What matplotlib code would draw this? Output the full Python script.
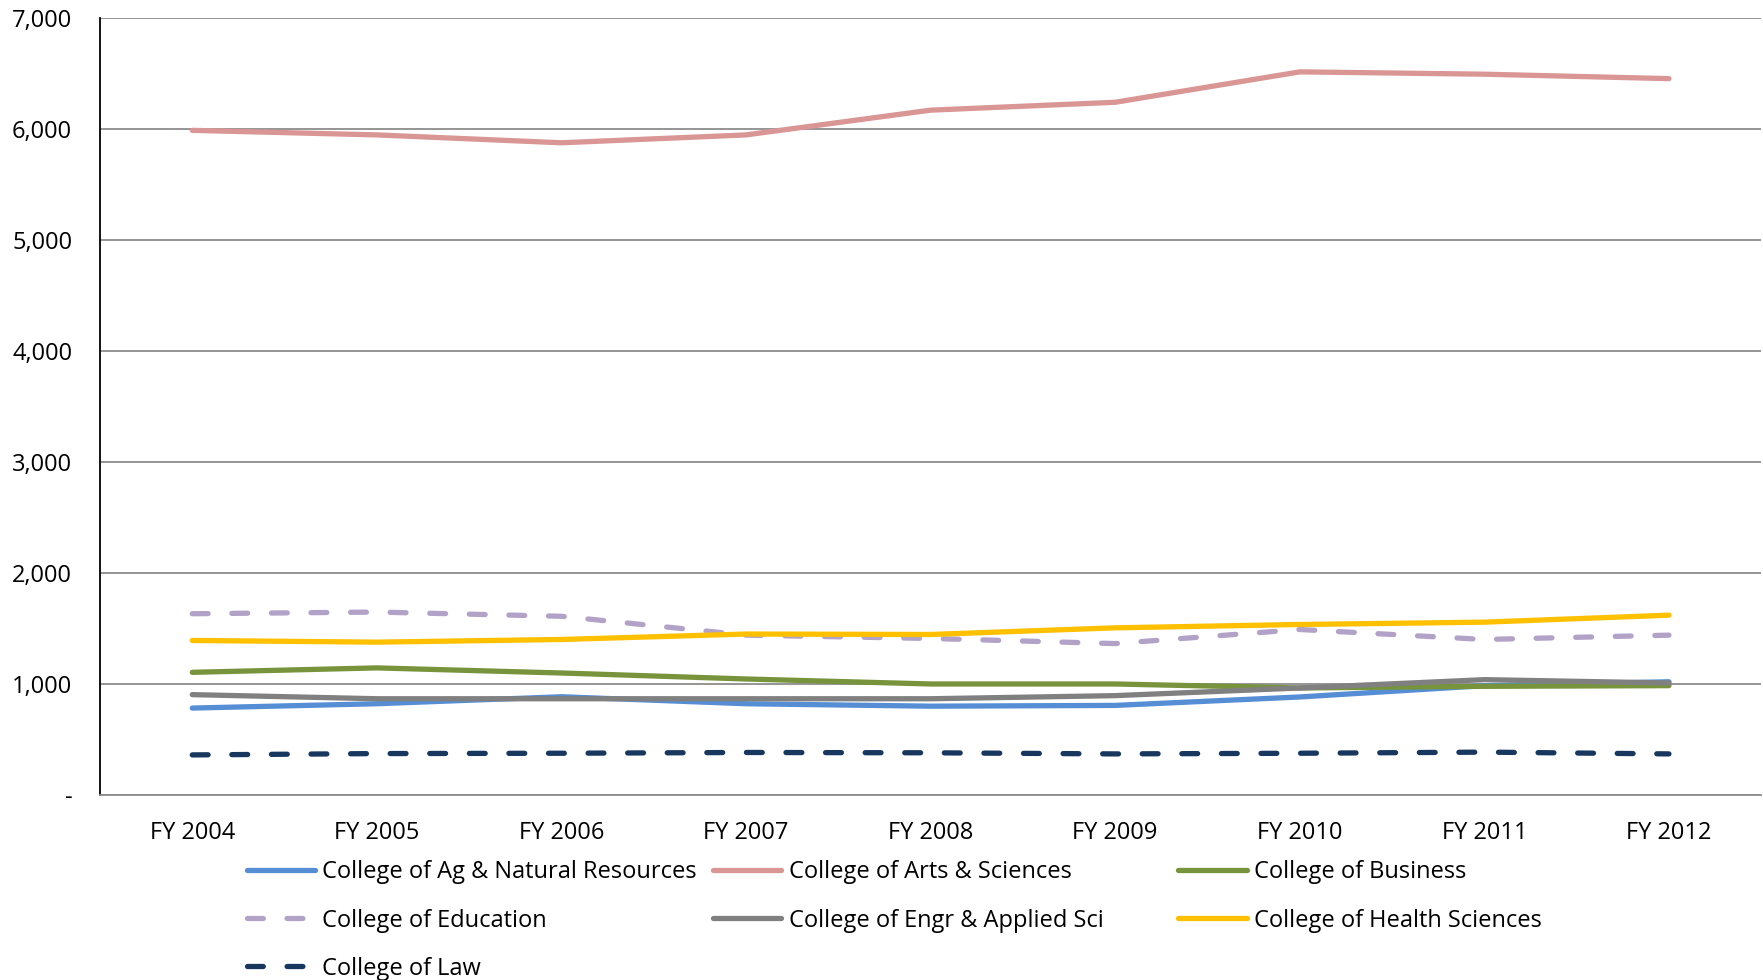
import matplotlib
matplotlib.use('Agg')
import matplotlib.pyplot as plt
from matplotlib.ticker import FuncFormatter

plt.rcParams['font.family'] = ['Open Sans', 'DejaVu Sans']

years = ['FY 2004', 'FY 2005', 'FY 2006', 'FY 2007', 'FY 2008',
         'FY 2009', 'FY 2010', 'FY 2011', 'FY 2012']

ag = [783, 822, 885, 822, 800, 807, 883, 985, 1020]
arts = [5988, 5947, 5876, 5947, 6170, 6241, 6515, 6494, 6454]
business = [1105, 1145, 1099, 1045, 1000, 1000, 964, 979, 985]
education = [1633, 1648, 1610, 1440, 1410, 1364, 1491, 1401, 1440]
engr = [904, 867, 867, 867, 867, 895, 964, 1039, 1009]
health = [1392, 1377, 1401, 1450, 1446, 1506, 1536, 1557, 1620]
law = [361, 373, 376, 383, 380, 370, 376, 386, 370]

series = [
    ('College of Ag & Natural Resources', ag, '#558ED5', False),
    ('College of Arts & Sciences', arts, '#D99694', False),
    ('College of Business', business, '#77933C', False),
    ('College of Education', education, '#B3A2C7', True),
    ('College of Engr & Applied Sci', engr, '#808080', False),
    ('College of Health Sciences', health, '#FFC000', False),
    ('College of Law', law, '#17375E', True),
]

fig = plt.figure(figsize=(17.63, 9.8), dpi=100)
ax = fig.add_axes([0.0567, 0.1888, 0.9423, 0.7928])

x = range(len(years))
handles = []
for name, vals, color, dashed in series:
    line, = ax.plot(x, vals, color=color, linewidth=3.8, label=name,
                    solid_capstyle='round', dash_capstyle='round')
    if dashed:
        line.set_dashes((3.0, 4.5))
    handles.append(line)

ax.set_xlim(-0.5, len(years) - 0.5)
ax.set_ylim(0, 7000)
ax.set_yticks(range(0, 7001, 1000))
ax.yaxis.set_major_formatter(FuncFormatter(lambda v, p: '-' if v == 0 else f'{int(v):,}'))
ax.set_xticks(list(x))
ax.set_xticklabels(years)
ax.tick_params(axis='both', length=0, labelsize=17, colors='black')
ax.tick_params(axis='x', pad=19)
ax.tick_params(axis='y', pad=20)

ax.grid(axis='y', color='#8C8C8C', linewidth=1.3)
ax.set_axisbelow(True)
for s in ['top', 'right']:
    ax.spines[s].set_visible(False)
ax.spines['bottom'].set_color('#8C8C8C')
ax.spines['bottom'].set_linewidth(1.3)
ax.spines['left'].set_color('black')
ax.spines['left'].set_linewidth(1.3)

# legend laid out row by row in three fixed-width columns
cols = [[0, 3, 6], [1, 4], [2, 5]]
col_x = [0.140, 0.4044, 0.6683]
for idx, cx in zip(cols, col_x):
    fig.legend([handles[i] for i in idx], [series[i][0] for i in idx],
               loc='upper left', bbox_to_anchor=(cx, 0.122), frameon=False,
               fontsize=17, handlelength=2.9, handletextpad=0.3,
               labelspacing=1.02, borderpad=0, borderaxespad=0)

fig.savefig('out.png', dpi=100)
